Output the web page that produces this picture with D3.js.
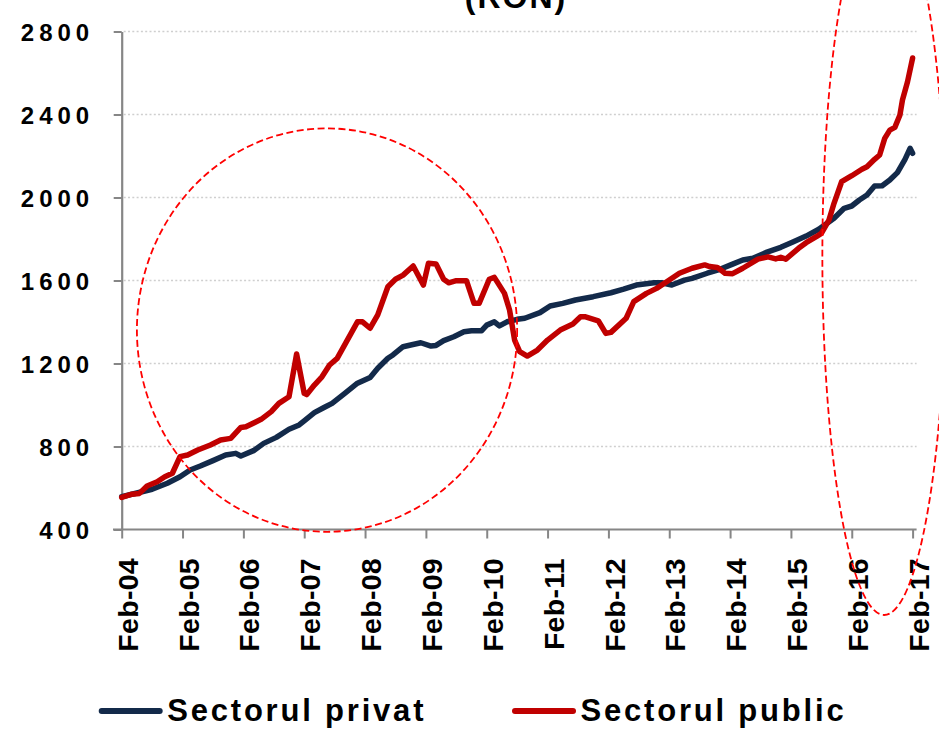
<!DOCTYPE html>
<html>
<head>
<meta charset="utf-8">
<script src="https://cdn.jsdelivr.net/npm/d3@7"></script>
<style>
  html, body { margin: 0; padding: 0; background: #fff; }
  svg { display: block; font-family: "Liberation Sans", Arial, sans-serif; }
</style>
</head>
<body>
<svg id="chart" width="939" height="729"></svg>
<script>
// months counted from Feb-04 (0) to Feb-17 (156), values in RON
const privatMonth = [0,4,6,9,11.5,13.5,15.5,18,20.5,22.5,23.5,26,28,30.5,33,35,36,38,40,41.5,44,46.5,49,50.5,52.5,53.5,55.5,57,59,61,62,63.5,65.5,67.5,69,71,72,73.5,74.5,76,78,79.5,82.5,84.5,87,89.5,93,96.5,99,101.5,105,106.5,108.5,111,112.5,115.5,118,120.5,122.5,124.5,127,130,132.5,135,137.5,140.5,142.5,144,145.5,147,148.5,150,151.5,153,154.5,155.5,156];
const privatValue = [558,582,594,623,654,687,706,732,759,767,754,780,815,844,883,904,924,963,989,1008,1056,1105,1133,1177,1225,1241,1281,1289,1300,1284,1287,1310,1329,1353,1358,1358,1385,1401,1381,1401,1413,1418,1445,1477,1490,1506,1522,1541,1558,1578,1589,1589,1578,1602,1610,1635,1654,1679,1699,1707,1734,1760,1787,1814,1847,1900,1948,1959,1988,2012,2055,2057,2084,2120,2184,2237,2213];

const publicMonth = [0,2,3.5,5,7,8.5,10,11.5,13,15,17.5,19.5,21.5,23.5,24.5,27.5,29.5,31,33,34.5,36,36.5,38,39.5,41,42.5,44.5,46.5,47.5,49,50.5,52.5,54,55.5,57.5,59.5,60.5,62,63.5,64.5,66,68,69.5,70.5,72.5,73.5,75.5,76.5,77.5,78.5,80,82,84,86.5,89,90.5,91.5,94,95.5,96.5,99.5,101,103.5,105.5,107.5,110,112.5,115,116,117.5,119,120.5,122.5,125.5,127.5,129,130,131,133.5,135,137,138,139.5,140.5,142,144,146,147,148.5,149.5,150.5,151.5,152.5,153.5,154,155,156];
const publicValue = [555,570,574,610,630,654,671,751,759,783,807,831,839,892,895,931,968,1008,1040,1246,1056,1050,1096,1136,1193,1225,1313,1401,1401,1370,1434,1570,1606,1626,1670,1578,1683,1680,1606,1589,1599,1599,1490,1490,1606,1615,1538,1458,1313,1257,1236,1265,1313,1361,1390,1425,1425,1406,1345,1350,1418,1498,1538,1562,1594,1635,1659,1675,1667,1663,1635,1633,1659,1703,1714,1704,1712,1703,1755,1782,1811,1827,1891,1972,2076,2105,2136,2148,2184,2205,2285,2325,2338,2398,2470,2558,2672];

const tickMonths = d3.range(0, 157, 12);
const tickLabels = ["Feb-04","Feb-05","Feb-06","Feb-07","Feb-08","Feb-09","Feb-10","Feb-11","Feb-12","Feb-13","Feb-14","Feb-15","Feb-16","Feb-17"];
const yTicks = [400, 800, 1200, 1600, 2000, 2400, 2800];

const seriesNames = ["Sectorul privat", "Sectorul public"];
const seriesColors = ["#132a4a", "#c00000"];

// dashed ellipses: centre month, centre value, half width (months), half height (RON)
const ringMonth = [40.5, 150.4];
const ringValue = [1361, 1718];
const ringHalfMonths = [37.5, 12.2];
const ringHalfValue = [972, 1730];

const svg = d3.select("#chart");

const x = d3.scaleLinear().domain([0, 156]).range([121.7, 912.6]);
const y = d3.scaleLinear().domain([400, 2800]).range([529.5, 31.5]);
const axisY = y(400);

// title (upper lines fall outside the picture, as in the original)
svg.append("text")
    .attr("x", 516)
    .attr("y", 8)
    .attr("text-anchor", "middle")
    .style("font-size", "32px")
    .style("font-weight", "bold")
    .style("letter-spacing", "2px")
    .text("(RON)");

// gridlines
svg.append("g").selectAll("line")
    .data(yTicks.slice(1))
    .enter().append("line")
    .attr("x1", x(0) + 2)
    .attr("x2", x(156) + 4)
    .attr("y1", d => y(d))
    .attr("y2", d => y(d))
    .attr("stroke", "#cfcfcf")
    .attr("stroke-width", 1.6)
    .attr("stroke-dasharray", "2,2.3");

// y axis
const gy = svg.append("g")
    .attr("transform", `translate(${x(0)},0)`)
    .call(d3.axisLeft(y).tickValues(yTicks).tickSize(8).tickSizeOuter(0).tickFormat(d3.format("d")));
gy.select(".domain").attr("stroke", "#868686").attr("stroke-width", 2.2);
gy.selectAll(".tick line").attr("stroke", "#868686").attr("stroke-width", 2);
gy.selectAll(".tick text")
    .attr("x", -27.5)
    .attr("dy", "0.36em")
    .attr("fill", "#000")
    .style("font-family", "'Liberation Sans', Arial, sans-serif")
    .style("font-size", "24px")
    .style("font-weight", "bold")
    .style("letter-spacing", "5px");

// x axis
const gx = svg.append("g")
    .attr("transform", `translate(0,${axisY})`)
    .call(d3.axisBottom(x).tickValues(tickMonths).tickSize(9).tickSizeOuter(0)
        .tickFormat((d, i) => tickLabels[i]));
gx.select(".domain").remove();
gx.append("line")
    .attr("x1", x(0) - 8.7)
    .attr("x2", x(156) + 4)
    .attr("stroke", "#868686")
    .attr("stroke-width", 2.2);
gx.selectAll(".tick line").attr("stroke", "#868686").attr("stroke-width", 2);
gx.selectAll(".tick text")
    .attr("transform", "rotate(-90)")
    .attr("text-anchor", "end")
    .attr("x", -28.5)
    .attr("y", 15.6)
    .attr("dy", 0)
    .attr("fill", "#000")
    .style("font-family", "'Liberation Sans', Arial, sans-serif")
    .style("font-size", "28.5px")
    .style("font-weight", "bold")
    .style("letter-spacing", "0.3px");

// lines
const line = d3.line()
    .x(d => x(d[0]))
    .y(d => y(d[1]));

const series = [
    d3.zip(privatMonth, privatValue),
    d3.zip(publicMonth, publicValue)
];

svg.append("g").selectAll("path")
    .data(series)
    .enter().append("path")
    .attr("d", line)
    .attr("fill", "none")
    .attr("stroke", (d, i) => seriesColors[i])
    .attr("stroke-width", 5.5)
    .attr("stroke-linejoin", "round")
    .attr("stroke-linecap", "round");

// dashed ellipses
svg.append("g").selectAll("ellipse")
    .data(ringMonth)
    .enter().append("ellipse")
    .attr("cx", d => x(d))
    .attr("cy", (d, i) => y(ringValue[i]))
    .attr("rx", (d, i) => x(d + ringHalfMonths[i]) - x(d))
    .attr("ry", (d, i) => y(ringValue[i]) - y(ringValue[i] + ringHalfValue[i]))
    .attr("fill", "none")
    .attr("stroke", "#ff0000")
    .attr("stroke-width", 1.8)
    .attr("stroke-dasharray", "7,3.5");

// legend
const legendX = [101.7, 515];
const legend = svg.append("g").selectAll("g")
    .data(seriesNames)
    .enter().append("g")
    .attr("transform", (d, i) => `translate(${legendX[i]},711)`);
legend.append("line")
    .attr("x1", 0).attr("x2", 58)
    .attr("stroke", (d, i) => seriesColors[i])
    .attr("stroke-width", 6)
    .attr("stroke-linecap", "round");
legend.append("text")
    .attr("x", 65.5)
    .attr("y", 10)
    .style("font-size", "31px")
    .style("font-weight", "bold")
    .style("letter-spacing", "2.8px")
    .text(d => d);
</script>
</body>
</html>
